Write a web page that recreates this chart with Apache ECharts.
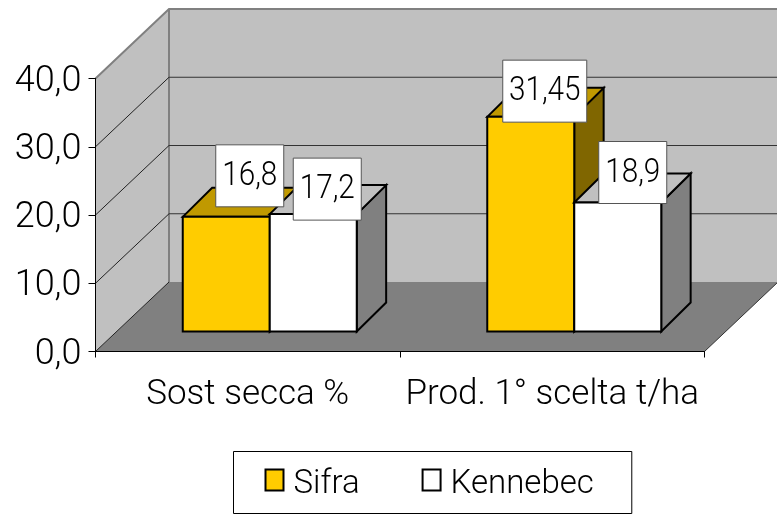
<!DOCTYPE html>
<html><head><meta charset="utf-8">
<style>html,body{margin:0;padding:0;background:#fff}#c{width:777px;height:519px}</style>
<script src="https://cdn.jsdelivr.net/npm/echarts@6/dist/echarts.min.js"></script>
</head><body><div id="c"></div>
<script>
const categories = ['Sost secca %', 'Prod. 1° scelta t/ha'];
const sifra = [16.8, 31.45];
const kennebec = [17.2, 18.9];
const sifraLabels = ['16,8', '31,45'];
const kennebecLabels = ['17,2', '18,9'];
const yTicks = [0, 10, 20, 30, 40];
// style: label box displacement from the bar's front-top centre
const sifraNudge = [[23.5, -41], [14, -25.7]];
const kennebecNudge = [[14, -25], [15, -30]];

const FONT = 'Roboto, "Liberation Sans", Arial, sans-serif';
const DX = 73.5, DY = 69.5;       // wall depth
const SHIFT = [22, 20];           // bar front from axis plane
const BD = [29.4, 29];            // bar depth
const BAR_W = 87;

const chart = echarts.init(document.getElementById('c'), null, {renderer: 'canvas'});

function poly(points, fill, stroke, lw) {
  return {type: 'polygon', shape: {points}, style: {fill, stroke, lineWidth: lw || 0}};
}
function bar(values, side, colors) {
  return function (params, api) {
    const i = api.value(0), v = api.value(1);
    const base = api.coord([i, 0]), top = api.coord([i, v]);
    const cx = base[0] + SHIFT[0];
    const x0 = side < 0 ? cx - BAR_W : cx, x1 = x0 + BAR_W;
    const yb = base[1] - SHIFT[1], yt = top[1] - SHIFT[1];
    const st = '#000';
    return {type: 'group', children: [
      poly([[x1, yb], [x1 + BD[0], yb - BD[1]], [x1 + BD[0], yt - BD[1]], [x1, yt]], colors[2], st, 2),
      poly([[x0, yt], [x0 + BD[0], yt - BD[1]], [x1 + BD[0], yt - BD[1]], [x1, yt]], colors[1], st, 2),
      {type: 'rect', shape: {x: x0, y: yt, width: x1 - x0, height: yb - yt},
       style: {fill: colors[0], stroke: st, lineWidth: 2}}
    ]};
  };
}
function labelItem(side, texts, nudges) {
  return function (params, api) {
    const i = api.value(0), v = api.value(1);
    const base = api.coord([i, 0]), top = api.coord([i, v]);
    const cx = base[0] + SHIFT[0] + side * BAR_W / 2 + nudges[i][0];
    const cy = top[1] - SHIFT[1] + nudges[i][1];
    const t = texts[i];
    const w = t.length > 4 ? 84 : 68, h = 62;
    return {type: 'group', children: [
      {type: 'rect', shape: {x: cx - w / 2, y: cy - h / 2, width: w, height: h},
       style: {fill: '#fff', stroke: '#555', lineWidth: 1}},
      {type: 'text', x: cx, y: cy + 1, scaleX: 0.9,
       style: {text: t, fill: '#000', font: '300 33px ' + FONT, align: 'center', verticalAlign: 'middle'}}
    ]};
  };
}

const option = {
  animation: false,
  backgroundColor: '#fff',
  grid: {left: 95.5, right: 72.5, top: 78.5, bottom: 167.5, containLabel: false},
  legend: {
    data: [
      {name: 'Sifra', icon: 'rect', itemStyle: {color: '#FFCC00', borderColor: '#000', borderWidth: 2}},
      {name: 'Kennebec', icon: 'rect', itemStyle: {color: '#fff', borderColor: '#000', borderWidth: 2}}
    ],
    left: 233.5, top: 451.5,
    padding: [17, 38, 12, 31],
    itemWidth: 18, itemHeight: 21, itemGap: 62,
    borderColor: '#000', borderWidth: 1, backgroundColor: '#fff',
    formatter: '{t|{name}}',
    textStyle: {color: '#000', fontFamily: FONT, fontWeight: 300, fontSize: 33, padding: [0, 0, 0, 5],
      rich: {t: {fontFamily: FONT, fontWeight: 300, fontSize: 33, color: '#000', padding: [10, 0, 0, 0]}}}
  },
  xAxis: {
    type: 'category', data: categories, z: 5,
    axisLine: {lineStyle: {color: '#000', width: 1}},
    axisTick: {show: true, length: 6, lineStyle: {color: '#000'}},
    axisLabel: {color: '#000', fontFamily: FONT, fontWeight: 300, fontSize: 35, margin: 26, interval: 0, hideOverlap: false},
    splitLine: {show: false}
  },
  yAxis: {
    type: 'value', min: 0, max: 40, interval: 10, z: 5,
    axisLine: {show: true, lineStyle: {color: '#000', width: 1}},
    axisTick: {show: true, length: 7, lineStyle: {color: '#000'}},
    axisLabel: {color: '#000', fontSize: 36, margin: 14,
      formatter: v => '{t|' + v.toFixed(1).replace('.', ',') + '}',
      rich: {t: {fontFamily: FONT, fontWeight: 300, fontSize: 36, color: '#000', padding: [6, 0, 0, 0]}}},
    splitLine: {show: false}
  },
  series: [
    {type: 'custom', name: 'walls', z: 1, silent: true, data: [[0, 0]], clip: false,
     renderItem(params, api) {
       const c = params.coordSys;
       const l = c.x, r = c.x + c.width, t = c.y, b = c.y + c.height;
       return {type: 'group', children: [
         poly([[l + DX, b - DY], [r + DX, b - DY], [r + DX, t - DY], [l + DX, t - DY]], '#C0C0C0'),
         poly([[l, b], [l + DX, b - DY], [l + DX, t - DY], [l, t]], '#C0C0C0'),
         poly([[l, b], [r, b], [r + DX, b - DY], [l + DX, b - DY]], '#808080'),
         {type: 'polyline', shape: {points: [[l, t], [l + DX, t - DY], [r + DX, t - DY]]},
          style: {stroke: '#808080', lineWidth: 2, fill: null}},
         {type: 'line', shape: {x1: l + DX, y1: t - DY, x2: l + DX, y2: b - DY},
          style: {stroke: '#808080', lineWidth: 2}},
         {type: 'line', shape: {x1: r, y1: b, x2: r + DX, y2: b - DY},
          style: {stroke: '#333', lineWidth: 1}}
       ]};
     }},
    {type: 'custom', name: 'grid3d', z: 2, silent: true, data: yTicks.map(v => [0, v]), clip: false,
     renderItem(params, api) {
       const c = params.coordSys, y = api.coord([0, api.value(1)])[1], v = api.value(1);
       if (v === 40) return {type: 'group', children: []};
       const kids = [{type: 'line', shape: {x1: c.x, y1: y, x2: c.x + DX, y2: y - DY},
                      style: {stroke: '#222', lineWidth: 1}}];
       if (v > 0) kids.push({type: 'line', shape: {x1: c.x + DX, y1: y - DY, x2: c.x + c.width + DX, y2: y - DY},
                      style: {stroke: '#333', lineWidth: 1.2}});
       return {type: 'group', children: kids};
     }},
    {type: 'custom', name: 'Sifra', z: 3, silent: true, clip: false, itemStyle: {color: '#FFCC00'},
     data: sifra.map((v, i) => [i, v]), renderItem: bar(sifra, -1, ['#FFCC00', '#C09900', '#806600'])},
    {type: 'custom', name: 'Kennebec', z: 4, silent: true, clip: false, itemStyle: {color: '#fff'},
     data: kennebec.map((v, i) => [i, v]), renderItem: bar(kennebec, 1, ['#fff', '#C0C0C0', '#808080'])},
    {type: 'custom', name: 'labelsA', z: 6, silent: true, clip: false,
     data: sifra.map((v, i) => [i, v]), renderItem: labelItem(-1, sifraLabels, sifraNudge)},
    {type: 'custom', name: 'labelsB', z: 6, silent: true, clip: false,
     data: kennebec.map((v, i) => [i, v]), renderItem: labelItem(1, kennebecLabels, kennebecNudge)}
  ]
};
chart.setOption(option);
</script></body></html>
